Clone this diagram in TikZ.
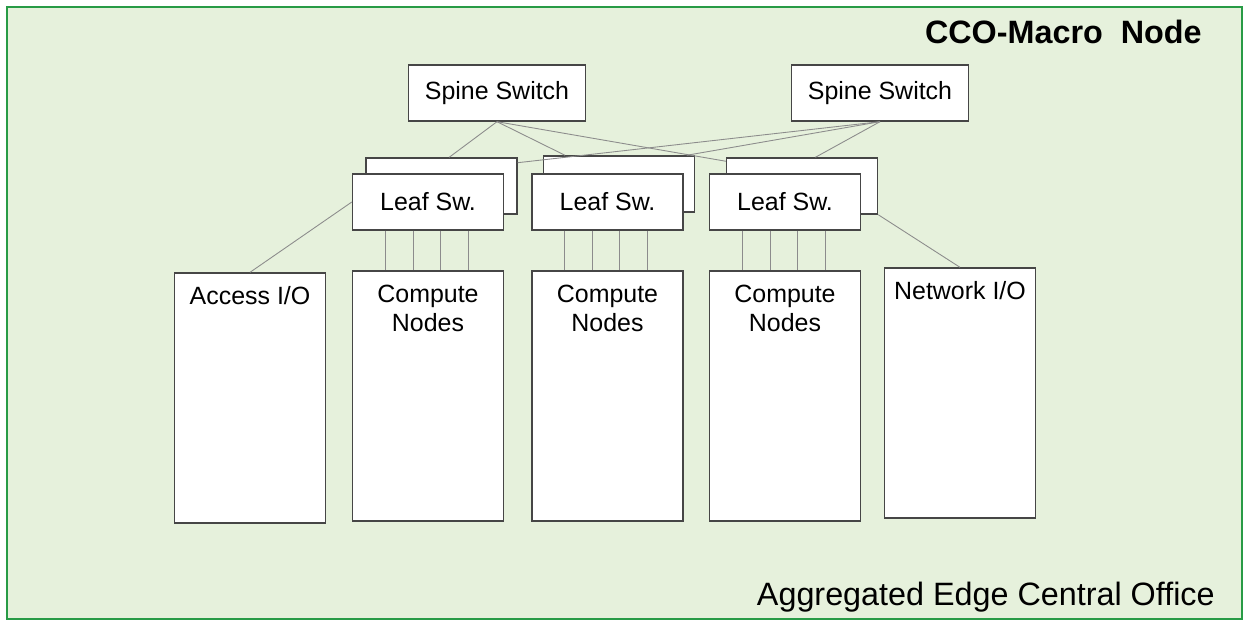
\documentclass[tikz,border=0pt]{standalone}
\usepackage{fontspec}
\setmainfont{Liberation Sans}
\usepackage{tikz}

\definecolor{officebg}{RGB}{230,241,220}
\definecolor{officeframe}{RGB}{40,155,70}
\definecolor{boxline}{RGB}{70,70,70}
\definecolor{wire}{RGB}{140,140,140}

\begin{document}
\begin{tikzpicture}[x=0.02cm, y=-0.02cm, every node/.style={font=\fontsize{14.2}{16.6}\selectfont}]

% Define styles for boxes and links
\tikzstyle{switch} = [draw=boxline, fill=white, line width=0.8pt, minimum width=3.53cm, minimum height=1.12cm, inner sep=0pt]
\tikzstyle{leafbox} = [draw=boxline, fill=white, line width=0.8pt, minimum width=3.02cm, minimum height=1.12cm, inner sep=0pt]
\tikzstyle{rack} = [draw=boxline, fill=white, line width=0.8pt, minimum width=3.02cm, minimum height=5cm, inner sep=0pt]
\tikzstyle{racktext} = [anchor=north, align=center, inner sep=0pt]
\tikzstyle{link} = [draw=wire, line width=0.5pt]
\tikzstyle{title} = [font=\fontsize{18.4}{22}\selectfont, inner sep=0pt, anchor=base east]

\useasboundingbox (0,0) rectangle (1244,621);

% Draw the office frame
\draw[officeframe, fill=officebg, line width=1.4pt] (7,7) rectangle (1242,619);
\node[title] (macro) at (1202,44) {\bfseries CCO-Macro\ \ Node};
\node[title] (office) at (1215,605) {Aggregated Edge Central Office};

% Spine switches
\node[switch] (spine1) at (497,93) {Spine Switch};
\node[switch] (spine2) at (880,93) {Spine Switch};

% Leaf switches (back and front) and compute racks
\foreach \i/\bx/\by/\fx in {1/441.5/186/428, 2/619/184/607.5, 3/802/186/785} {
  \node[leafbox] (back\i) at (\bx,\by) {};
  \node[leafbox] (leaf\i) at (\fx,202) {Leaf Sw.};
  \node[rack] (comp\i) at (\fx,396) {};
  \node[racktext] (comptext\i) at (\fx,285) {Compute\\Nodes};
  \foreach \dx in {-43,-15,12,40} {
    \draw[link] ([xshift=\dx*0.02cm]leaf\i.south) -- ([xshift=\dx*0.02cm]comp\i.north);
  }
}

% Access and network racks
\node[rack] (access) at (250,398) {};
\node[racktext] (accesstext) at (250,286) {Access I/O};
\node[rack] (network) at (960,393) {};
\node[racktext] (networktext) at (960,281) {Network I/O};

% Spine to leaf links
\draw[link] (spine1.south) -- (back1.75);
\draw[link] (spine1.south) -- (back2.152);
\draw[link] (spine1.south) -- (back3.162);
\draw[link] (spine2.south) -- (back1.17);
\draw[link] (spine2.south) -- (back2.23);
\draw[link] (spine2.south) -- (back3.65);

% I/O links
\draw[link] (access.north) -- (leaf1.west);
\draw[link] (back3.south east) -- (network.north);

\end{tikzpicture}
\end{document}
